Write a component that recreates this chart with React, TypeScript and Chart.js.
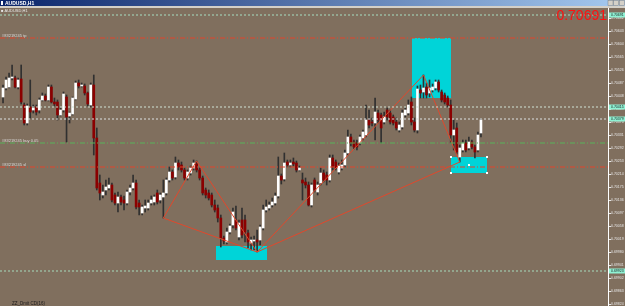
import React, { useEffect, useRef } from "react";
import { Chart, registerables } from "chart.js";

Chart.register(...registerables);

// AUDUSD H1 candles, prices in points (1 point = 0.00001)
const opens = [
  70445, 70472, 70475, 70502, 70502, 70475, 70499, 70421, 70367, 70415,
  70406, 70415, 70406, 70436, 70448, 70436, 70475, 70430, 70430, 70391,
  70406, 70445, 70388, 70394, 70439, 70487, 70478, 70478, 70457, 70421,
  70481, 70322, 70187, 70151, 70166, 70172, 70181, 70151, 70127, 70145,
  70136, 70127, 70160, 70172, 70187, 70127, 70097, 70112, 70112, 70127,
  70130, 70157, 70136, 70145, 70157, 70196, 70220, 70205, 70247, 70241,
  70226, 70202, 70217, 70232, 70244, 70226, 70202, 70166, 70157, 70151,
  70121, 70112, 70082, 70022, 70010, 70040, 70061, 70076, 70025, 70076,
  70076, 70037, 70007, 70013, 70016, 70016, 70052, 70106, 70112, 70121,
  70127, 70148, 70208, 70199, 70250, 70241, 70250, 70247, 70226, 70196,
  70190, 70181, 70121, 70196, 70160, 70187, 70217, 70211, 70196, 70262,
  70250, 70220, 70232, 70241, 70277, 70325, 70310, 70307, 70307, 70322,
  70331, 70376, 70370, 70367, 70397, 70391, 70370, 70406, 70397, 70385,
  70370, 70346, 70355, 70391, 70397, 70430, 70370, 70346, 70466, 70460,
  70475, 70457, 70466, 70472, 70490, 70460, 70451, 70442, 70421, 70331,
  70352, 70265, 70286, 70307, 70292, 70310, 70295, 70286, 70337,
];
const highs = [
  70481, 70505, 70517, 70541, 70508, 70502, 70541, 70427, 70424, 70496,
  70421, 70421, 70442, 70457, 70454, 70481, 70481, 70442, 70436, 70412,
  70460, 70451, 70400, 70445, 70493, 70496, 70487, 70484, 70460, 70487,
  70511, 70352, 70211, 70181, 70196, 70202, 70187, 70157, 70160, 70151,
  70148, 70166, 70181, 70211, 70196, 70136, 70121, 70136, 70136, 70148,
  70151, 70166, 70157, 70196, 70202, 70235, 70226, 70265, 70256, 70250,
  70232, 70226, 70238, 70256, 70253, 70232, 70208, 70172, 70166, 70157,
  70136, 70121, 70091, 70028, 70052, 70064, 70112, 70118, 70076, 70112,
  70091, 70046, 70025, 70028, 70046, 70061, 70121, 70136, 70130, 70142,
  70157, 70265, 70214, 70277, 70256, 70256, 70262, 70253, 70238, 70217,
  70202, 70190, 70187, 70202, 70190, 70232, 70226, 70220, 70271, 70271,
  70256, 70247, 70256, 70286, 70346, 70334, 70316, 70316, 70331, 70346,
  70421, 70406, 70382, 70442, 70406, 70397, 70400, 70412, 70406, 70391,
  70382, 70370, 70406, 70412, 70436, 70445, 70382, 70478, 70481, 70511,
  70487, 70496, 70484, 70496, 70496, 70466, 70457, 70448, 70436, 70376,
  70367, 70301, 70316, 70316, 70325, 70316, 70301, 70340, 70379,
];
const lows = [
  70427, 70466, 70472, 70496, 70472, 70469, 70424, 70361, 70361, 70382,
  70397, 70391, 70397, 70433, 70433, 70433, 70427, 70418, 70376, 70388,
  70400, 70310, 70367, 70391, 70436, 70472, 70475, 70451, 70418, 70415,
  70271, 70166, 70136, 70142, 70151, 70166, 70130, 70121, 70100, 70121,
  70106, 70121, 70151, 70166, 70109, 70091, 70091, 70100, 70106, 70121,
  70121, 70124, 70127, 70082, 70151, 70190, 70196, 70199, 70226, 70220,
  70196, 70196, 70211, 70226, 70220, 70196, 70151, 70142, 70136, 70115,
  70100, 70070, 69995, 70004, 70004, 70034, 70052, 70046, 70016, 70022,
  70010, 69992, 69986, 69986, 69980, 70001, 70046, 70100, 70106, 70115,
  70121, 70142, 70184, 70193, 70235, 70235, 70238, 70220, 70223, 70136,
  70172, 70118, 70115, 70160, 70151, 70181, 70190, 70181, 70190, 70226,
  70226, 70214, 70226, 70235, 70271, 70298, 70289, 70286, 70301, 70316,
  70325, 70352, 70358, 70316, 70367, 70307, 70364, 70376, 70364, 70361,
  70346, 70340, 70349, 70385, 70391, 70361, 70340, 70337, 70442, 70442,
  70442, 70445, 70460, 70466, 70460, 70430, 70424, 70415, 70307, 70286,
  70274, 70250, 70280, 70280, 70286, 70289, 70262, 70280, 70325,
];
const closes = [
  70472, 70496, 70502, 70505, 70475, 70496, 70430, 70367, 70418, 70400,
  70412, 70400, 70436, 70448, 70436, 70475, 70430, 70424, 70391, 70406,
  70454, 70385, 70397, 70442, 70487, 70478, 70481, 70457, 70424, 70481,
  70322, 70172, 70157, 70160, 70175, 70181, 70136, 70127, 70145, 70130,
  70127, 70160, 70172, 70187, 70115, 70115, 70115, 70118, 70127, 70136,
  70145, 70130, 70151, 70157, 70196, 70220, 70202, 70247, 70235, 70226,
  70202, 70220, 70232, 70247, 70226, 70202, 70157, 70151, 70142, 70121,
  70106, 70082, 70022, 70013, 70040, 70058, 70100, 70052, 70067, 70031,
  70040, 70010, 70016, 70016, 70010, 70055, 70106, 70115, 70121, 70130,
  70148, 70208, 70196, 70247, 70241, 70247, 70244, 70226, 70232, 70187,
  70181, 70121, 70181, 70166, 70181, 70217, 70196, 70196, 70262, 70235,
  70232, 70238, 70241, 70277, 70325, 70307, 70295, 70295, 70325, 70340,
  70376, 70361, 70367, 70400, 70376, 70352, 70385, 70385, 70370, 70367,
  70352, 70361, 70397, 70406, 70421, 70370, 70346, 70469, 70457, 70472,
  70451, 70472, 70475, 70490, 70466, 70436, 70430, 70421, 70331, 70346,
  70280, 70292, 70307, 70286, 70310, 70295, 70280, 70331, 70376,
];

// ZigZag swing points (bar index, price)
const zigzagBars = [53, 64, 84, 139, 151];
const zigzagPrices = [70082, 70253, 69980, 70511, 70250];
// extra legs between swing points (indices into the swing arrays)
const extraLegs = [
  [0, 2],
  [2, 4],
];

// horizontal levels
const levelPrices = [70691, 70622, 70415, 70379, 70307, 70235, 69923];
const levelLabels = ["", "#83219245 tp", "", "", "#83219245 buy 0.05", "#83219245 sl", ""];

// rectangles (bar index range, price range)
const boxStart = [70.4, 135.2, 148.1];
const boxEnd = [87.3, 148.1, 160];
const boxHigh = [69998, 70622, 70265];
const boxLow = [69956, 70442, 70217];

// price axis
const yTicks = [
  70682, 70643, 70604, 70565, 70526, 70487, 70448, 70409, 70370, 70331, 70292, 70253,
  70214, 70175, 70136, 70097, 70058, 70019, 69980, 69941, 69902, 69863, 69824,
];
const markedPrices = [70691, 70415, 70379, 69923];
const bigPriceText = "0.70691";
const symbolTitle = "AUDUSD,H1";
const indicatorLabel = "ZZ_Dmit CD(16)";

const X_MIN = -1;
const X_MAX = 200;
const Y_MIN = 69818;
const Y_MAX = 70712;

const BG = "#806f5e";
const fmt = (p: number) => (p / 1e5).toFixed(5);

const levelColors = ["#a6e0c2", "#e2452b", "#cfe4d6", "#dde2e2", "#58b45a", "#e2452b", "#a6dcbc"];
const levelDash = [[2, 2], [5, 2, 1, 2], [2, 2], [2, 2], [5, 2, 1, 2], [5, 2, 1, 2], [2, 2]];

const mtPlugin = {
  id: "mt4",
  beforeDraw(chart: any) {
    const { ctx, width, height } = chart;
    ctx.save();
    ctx.fillStyle = BG;
    ctx.fillRect(0, 0, width, height);
    const g = ctx.createLinearGradient(0, 0, width, 0);
    g.addColorStop(0, "#0a246a");
    g.addColorStop(1, "#a6caf0");
    ctx.fillStyle = g;
    ctx.fillRect(0, 0, width, 6);
    ctx.fillStyle = "#d4d0c8";
    ctx.fillRect(0, 6, width, 2);
    ctx.fillStyle = "#ffffff";
    ctx.fillRect(1, 1, 2, 4);
    ctx.font = 'bold 5px "Liberation Sans"';
    ctx.textBaseline = "middle";
    ctx.fillText(symbolTitle, 5, 3.2);
    for (let k = 0; k < 3; k++) {
      ctx.fillStyle = "#d4d0c8";
      ctx.fillRect(608 + k * 5.7, 0.5, 5, 5);
      ctx.strokeStyle = "#808080";
      ctx.lineWidth = 0.5;
      ctx.strokeRect(608 + k * 5.7, 0.5, 5, 5);
    }
    ctx.restore();
  },
  beforeDatasetsDraw(chart: any) {
    const { ctx, chartArea, scales } = chart;
    const x = scales.x;
    const y = scales.y;
    ctx.save();
    ctx.beginPath();
    ctx.rect(chartArea.left, chartArea.top, chartArea.right - chartArea.left, chartArea.bottom - chartArea.top);
    ctx.clip();
    ctx.fillStyle = "#00d4d8";
    for (let i = 0; i < boxStart.length; i++) {
      const x0 = x.getPixelForValue(boxStart[i]);
      const x1 = x.getPixelForValue(boxEnd[i]);
      const y0 = y.getPixelForValue(boxHigh[i]);
      const y1 = y.getPixelForValue(boxLow[i]);
      ctx.fillRect(Math.round(x0), Math.round(y0), Math.round(x1 - x0), Math.round(y1 - y0));
    }
    ctx.restore();
  },
  afterDatasetsDraw(chart: any) {
    const { ctx, scales } = chart;
    const x = scales.x;
    const y = scales.y;
    ctx.save();
    // selection handles on last rectangle
    const i = boxStart.length - 1;
    const x0 = Math.round(x.getPixelForValue(boxStart[i]));
    const x1 = Math.round(x.getPixelForValue(boxEnd[i]));
    const y0 = Math.round(y.getPixelForValue(boxHigh[i]));
    const y1 = Math.round(y.getPixelForValue(boxLow[i]));
    ctx.fillStyle = "#ffffff";
    for (const [hx, hy] of [[x0, y0], [x1, y0], [x0, y1], [x1, y1], [(x0 + x1) / 2, (y0 + y1) / 2]]) {
      ctx.fillRect(hx - 1, hy - 1, 2, 2);
    }
    // level labels
    ctx.font = '4px "Liberation Sans"';
    ctx.textBaseline = "bottom";
    ctx.fillStyle = "#dcdcdc";
    for (let k = 0; k < levelPrices.length; k++) {
      if (!levelLabels[k]) continue;
      const py = y.getPixelForValue(levelPrices[k]);
      ctx.fillText(levelLabels[k], 2, py - 0.5);
    }
    ctx.restore();
  },
  afterDraw(chart: any) {
    const { ctx, chartArea, scales } = chart;
    const y = scales.y;
    const right = chartArea.right;
    ctx.save();
    ctx.font = '3.5px "Liberation Sans"';
    ctx.textBaseline = "middle";
    ctx.textAlign = "left";
    for (const v of yTicks) {
      const py = y.getPixelForValue(v);
      ctx.fillStyle = "#e6e6e6";
      ctx.fillRect(right + 1, Math.round(py), 2, 1);
      ctx.fillText(fmt(v), right + 3, py);
    }
    for (const v of markedPrices) {
      const py = y.getPixelForValue(v);
      ctx.fillStyle = "#8ff2d4";
      ctx.fillRect(right + 1, py - 2.5, 16, 5);
      ctx.fillStyle = "#1a1a1a";
      ctx.fillText(fmt(v), right + 3, py);
    }
    // big price text
    ctx.font = '14px "Liberation Sans"';
    ctx.textAlign = "right";
    ctx.textBaseline = "alphabetic";
    ctx.fillStyle = "#ff1010";
    ctx.fillText(bigPriceText, right - 1, 20);
    // chart symbol text
    ctx.textAlign = "left";
    ctx.textBaseline = "middle";
    ctx.font = '4px "Liberation Sans"';
    ctx.fillStyle = "#e8e8e8";
    ctx.fillText("\u25A0 " + symbolTitle, 1, 10.5);
    // indicator label
    ctx.font = '4.5px "Liberation Sans"';
    ctx.fillStyle = "#1a1a1a";
    ctx.fillText(indicatorLabel, 12, 303.5);
    ctx.restore();
  },
};

export default function App() {
  const ref = useRef<HTMLCanvasElement>(null);
  useEffect(() => {
    const canvas = ref.current;
    if (!canvas) return;
    const wickData = opens.map((_, i) => ({ x: i, y: [lows[i], highs[i]] }));
    const bodyData = opens.map((o, i) => ({ x: i, y: [o, closes[i]] }));
    const bodyColors = opens.map((o, i) => (closes[i] >= o ? "#ffffff" : "#8b0000"));

    const zz = zigzagBars.map((b, i) => ({ x: b, y: zigzagPrices[i] }));
    const legSets = extraLegs.map(([a, b]) => ({
      type: "line" as const,
      data: [zz[a], zz[b]],
      borderColor: "#e0482c",
      borderWidth: 1,
      pointRadius: 0,
      order: 1,
    }));
    const levelSets = levelPrices.map((p, k) => ({
      type: "line" as const,
      data: [
        { x: X_MIN, y: p },
        { x: X_MAX, y: p },
      ],
      borderColor: levelColors[k],
      borderWidth: 1,
      borderDash: levelDash[k],
      pointRadius: 0,
      order: 0,
    }));

    const chart = new Chart(canvas, {
      type: "bar",
      data: {
        datasets: [
          ...levelSets,
          {
            type: "line",
            data: zz,
            borderColor: "#e0482c",
            borderWidth: 1,
            pointRadius: 0,
            order: 1,
          },
          ...legSets,
          {
            type: "bar",
            data: bodyData,
            backgroundColor: bodyColors,
            barThickness: 2,
            minBarLength: 1,
            grouped: false,
            order: 2,
          },
          {
            type: "bar",
            data: wickData,
            backgroundColor: "#303030",
            barThickness: 1,
            grouped: false,
            order: 3,
          },
        ] as any,
      },
      options: {
        animation: false,
        responsive: false,
        devicePixelRatio: 1,
        events: [],
        layout: { padding: { top: 8, left: 0, right: 0, bottom: 0 } },
        plugins: { legend: { display: false }, tooltip: { enabled: false } },
        scales: {
          x: { type: "linear", min: X_MIN, max: X_MAX, display: false, offset: false },
          y: {
            type: "linear",
            position: "right",
            min: Y_MIN,
            max: Y_MAX,
            grid: { display: false, drawTicks: false },
            border: { display: true, color: "#ffffff", width: 1 },
            ticks: { display: false },
            afterFit: (s: any) => {
              s.width = 17;
            },
          },
        },
      } as any,
      plugins: [mtPlugin],
    });
    return () => chart.destroy();
  }, []);
  return (
    <div style={{ position: "fixed", left: 0, top: 0, width: 625, height: 306 }}>
      <canvas ref={ref} width={625} height={306} style={{ display: "block", width: 625, height: 306 }} />
    </div>
  );
}
